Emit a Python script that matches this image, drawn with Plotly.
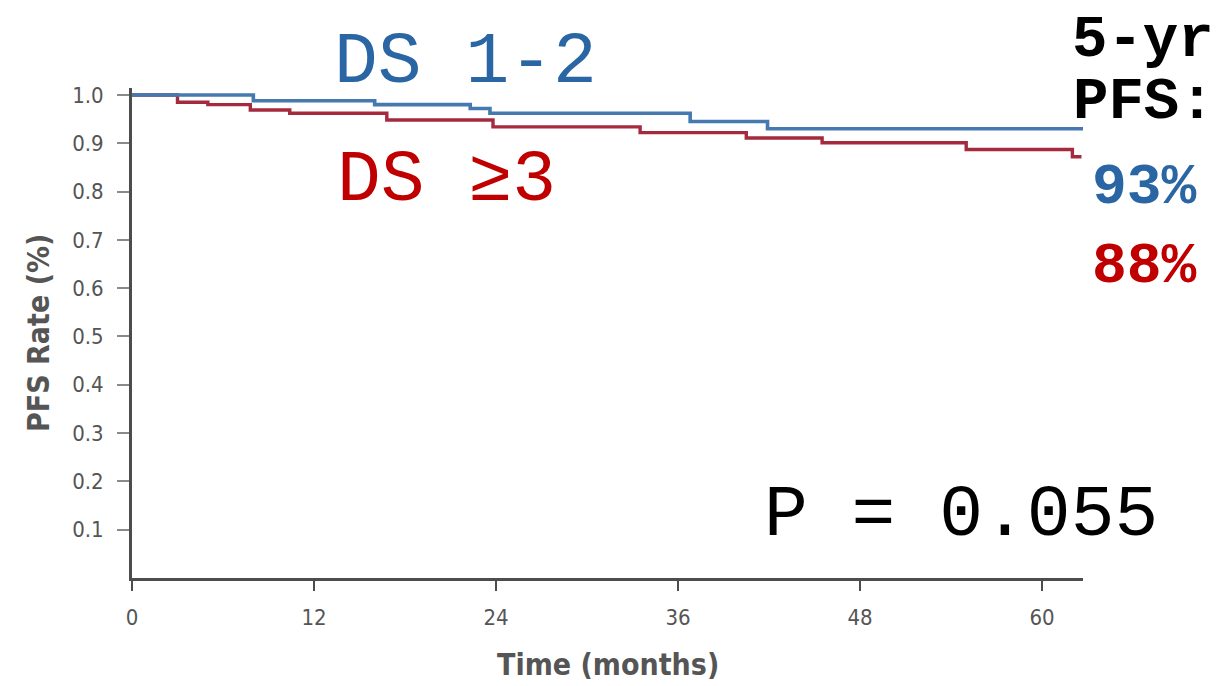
import plotly.graph_objects as go

# Kaplan-Meier progression-free survival by Deauville score
months_ds12 = [0, 8.0, 16.0, 22.3, 23.6, 36.8, 41.9, 62.7]
pfs_ds12 = [1.0, 0.988, 0.980, 0.972, 0.962, 0.945, 0.930, 0.930]

months_ds3 = [0, 3.0, 5.0, 7.8, 10.4, 16.8, 23.8, 33.5, 40.5, 45.5, 55.0, 62.0, 62.6]
pfs_ds3 = [1.0, 0.985, 0.980, 0.969, 0.962, 0.948, 0.934, 0.922, 0.911, 0.901, 0.887, 0.872, 0.872]

x_ticks = [0, 12, 24, 36, 48, 60]
y_ticks = [0.1, 0.2, 0.3, 0.4, 0.5, 0.6, 0.7, 0.8, 0.9, 1.0]
y_tick_labels = ["0.1", "0.2", "0.3", "0.4", "0.5", "0.6", "0.7", "0.8", "0.9", "1.0"]

pfs5_ds12 = "93%"
pfs5_ds3 = "88%"
p_value = "P = 0.055"

BLUE_LINE = "#4579b0"
RED_LINE = "#a52a3e"
BLUE_TEXT = "#2a66a3"
RED_TEXT = "#c00000"
AXIS_GREY = "#4d4d4d"
LABEL_GREY = "#555555"
NARROW = "Liberation Sans Narrow, DejaVu Sans Condensed, Arial Narrow, sans-serif"
MONO = "Liberation Mono, Courier New, DejaVu Sans Mono, monospace"

fig = go.Figure()
fig.add_trace(go.Scatter(
    x=months_ds3, y=pfs_ds3, mode="lines", line=dict(color=RED_LINE, width=3.4, shape="hv"),
    name="DS ≥3", showlegend=False, hoverinfo="skip"))
fig.add_trace(go.Scatter(
    x=months_ds12, y=pfs_ds12, mode="lines", line=dict(color=BLUE_LINE, width=3.6, shape="hv"),
    name="DS 1-2", showlegend=False, hoverinfo="skip"))

fig.update_layout(
    width=1227, height=686,
    margin=dict(l=132, r=144, t=88, b=108),
    paper_bgcolor="white", plot_bgcolor="white",
    xaxis=dict(
        range=[0, 62.7], tickvals=x_ticks, ticktext=[str(v) for v in x_ticks],
        showgrid=False, zeroline=False, showline=True, linecolor=AXIS_GREY, linewidth=3,
        ticks="outside", ticklen=10, tickwidth=2, tickcolor=AXIS_GREY,
        tickfont=dict(family=NARROW, size=22, color=LABEL_GREY), ticklabelstandoff=8,
    ),
    yaxis=dict(
        range=[0, 1.0144], tickvals=y_ticks, ticktext=y_tick_labels,
        showgrid=False, zeroline=False, showline=True, linecolor=AXIS_GREY, linewidth=3,
        ticks="outside", ticklen=12, tickwidth=2, tickcolor="#8a8a8a",
        tickfont=dict(family=NARROW, size=22, color=LABEL_GREY), ticklabelstandoff=9,
    ),
)

# axis titles
fig.add_annotation(text="<b>Time (months)</b>", xref="paper", yref="paper", x=0.5, y=0,
                   yanchor="middle", yshift=-86, showarrow=False,
                   font=dict(family=NARROW, size=30, color=LABEL_GREY))
fig.add_annotation(text="<b>PFS Rate (%)</b>", xref="paper", yref="paper", x=0, y=0.5,
                   xanchor="center", xshift=-94, textangle=-90, showarrow=False,
                   font=dict(family=NARROW, size=30, color=LABEL_GREY))

# group labels
fig.add_annotation(text="DS 1-2", xref="paper", yref="paper", x=0, y=1, xanchor="left",
                   yanchor="middle", xshift=200, yshift=26, showarrow=False,
                   font=dict(family=MONO, size=73, color=BLUE_TEXT))
fig.add_annotation(text="DS ≥3", xref="paper", yref="paper", x=0, y=1, xanchor="left",
                   yanchor="middle", xshift=203, yshift=-92, showarrow=False,
                   font=dict(family=MONO, size=73, color=RED_TEXT))

# p-value
fig.add_annotation(text=p_value, xref="paper", yref="paper", x=0, y=0, xanchor="left",
                   yanchor="middle", xshift=630, yshift=63, showarrow=False,
                   font=dict(family=MONO, size=73, color="black"))

# 5-year PFS summary
fig.add_annotation(text="<b>5-yr</b>", xref="paper", yref="paper", x=1, y=1, xanchor="left",
                   yanchor="middle", xshift=-13, yshift=48, showarrow=False,
                   font=dict(family=MONO, size=59, color="black"))
fig.add_annotation(text="<b>PFS:</b>", xref="paper", yref="paper", x=1, y=1, xanchor="left",
                   yanchor="middle", xshift=-12, yshift=-14, showarrow=False,
                   font=dict(family=MONO, size=59, color="black"))
fig.add_annotation(text="<b>" + pfs5_ds12 + "</b>", xref="paper", yref="paper", x=1, y=1,
                   xanchor="left", yanchor="middle", xshift=7, yshift=-99, showarrow=False,
                   font=dict(family=MONO, size=58, color=BLUE_TEXT))
fig.add_annotation(text="<b>" + pfs5_ds3 + "</b>", xref="paper", yref="paper", x=1, y=1,
                   xanchor="left", yanchor="middle", xshift=7, yshift=-178, showarrow=False,
                   font=dict(family=MONO, size=58, color=RED_TEXT))

fig.write_html("out.html")
